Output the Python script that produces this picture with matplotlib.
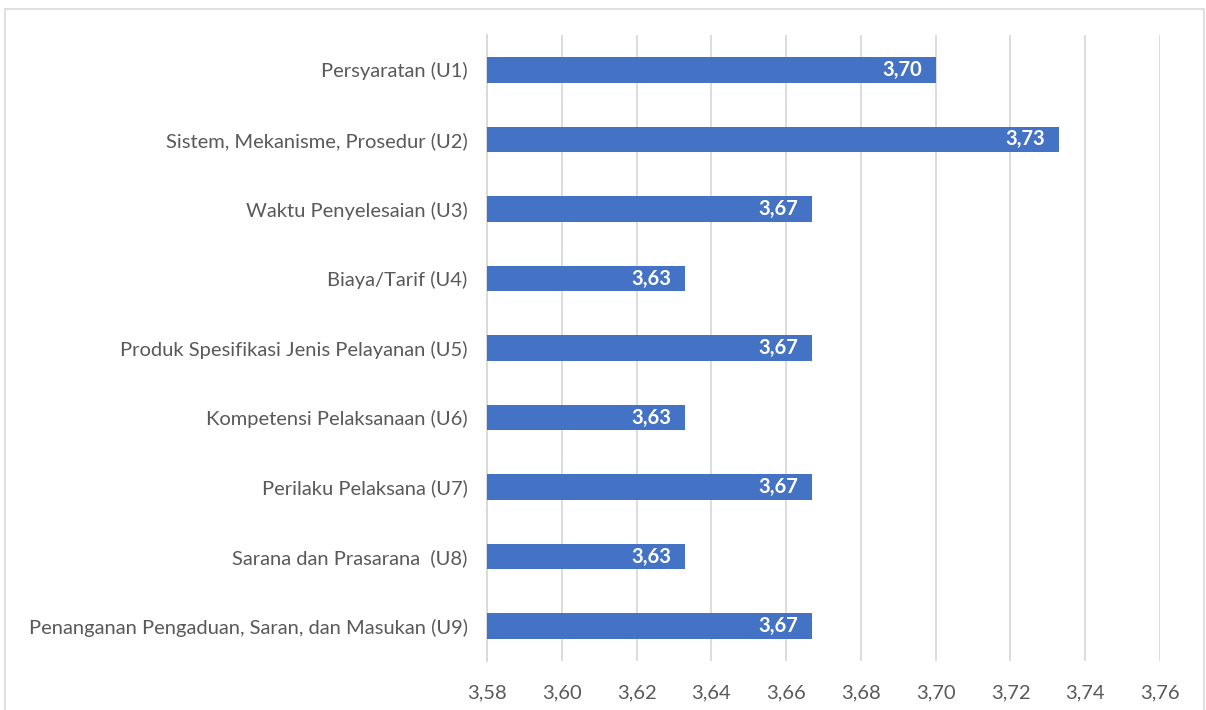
import matplotlib.pyplot as plt
from matplotlib.patches import Rectangle

# Survey scores per service element (U1..U9)
categories = [
    "Persyaratan (U1)",
    "Sistem, Mekanisme, Prosedur (U2)",
    "Waktu Penyelesaian (U3)",
    "Biaya/Tarif (U4)",
    "Produk Spesifikasi Jenis Pelayanan (U5)",
    "Kompetensi Pelaksanaan (U6)",
    "Perilaku Pelaksana (U7)",
    "Sarana dan Prasarana  (U8)",
    "Penanganan Pengaduan, Saran, dan Masukan (U9)",
]
scores = [3.70, 3.733, 3.667, 3.633, 3.667, 3.633, 3.667, 3.633, 3.667]
x_ticks = [3.58, 3.60, 3.62, 3.64, 3.66, 3.68, 3.70, 3.72, 3.74, 3.76]

bar_color = "#4472C4"
text_color = "#595959"
grid_color = "#D9D9D9"

plt.rcParams['font.family'] = ['Lato', 'DejaVu Sans']

fig = plt.figure(figsize=(12.06, 7.10), dpi=100)
ax = fig.add_axes([0.4038, 0.0694, 0.5581, 0.881])

# outer chart frame
fig.patches.append(Rectangle((0.004, -0.01), 0.994, 0.997, transform=fig.transFigure,
                             fill=False, edgecolor="#D9D9D9", linewidth=1.2))

y = list(range(len(categories)))
base = x_ticks[0]
widths = [s - base for s in scores]
ax.barh(y, widths, left=base, height=0.37, color=bar_color, zorder=3)

for yi, s in zip(y, scores):
    ax.text(s - 0.0037, yi, ("%.2f" % s).replace(".", ","), ha="right", va="center",
            color="white", fontsize=14.5, fontweight="bold", zorder=4)

ax.set_xlim(x_ticks[0], x_ticks[-1])
ax.set_ylim(len(categories) - 0.5, -0.5)
ax.set_xticks(x_ticks)
ax.set_xticklabels([("%.2f" % t).replace(".", ",") for t in x_ticks])
ax.set_yticks(y)
ax.set_yticklabels(categories)
ax.tick_params(axis="both", length=0, colors=text_color, labelsize=14.5)
ax.tick_params(axis="x", pad=17)
ax.tick_params(axis="y", pad=14)

ax.grid(axis="x", color=grid_color, linewidth=1.3, zorder=0)
for sp in ["top", "right", "bottom"]:
    ax.spines[sp].set_visible(False)
ax.spines["left"].set_color(grid_color)
ax.spines["left"].set_linewidth(1.3)

fig.savefig("out.png", dpi=100)
